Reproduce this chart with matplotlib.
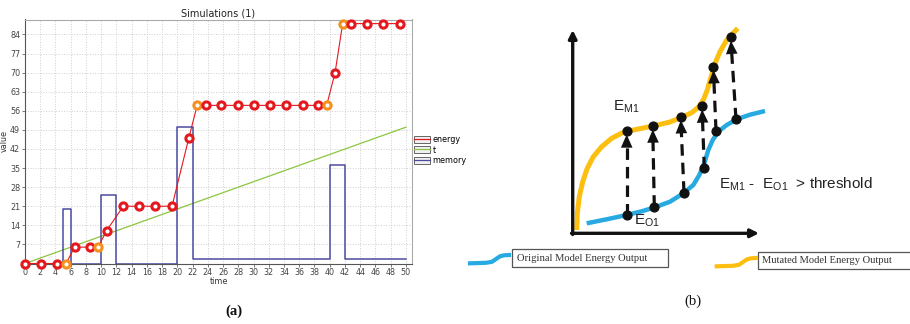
import numpy as np
import matplotlib
matplotlib.use("Agg")
import matplotlib.pyplot as plt
from matplotlib.patches import Patch, Rectangle
from matplotlib.lines import Line2D
from matplotlib.legend_handler import HandlerTuple

# ---- panel (a) data ----
energy_time = [0, 2.1, 4.25, 5.4, 6.5, 8.5, 9.6, 10.7, 12.9, 15.0, 17.1, 19.3,
               21.5, 22.6, 23.7, 25.7, 27.9, 30.0, 32.2, 34.3, 36.5, 38.5, 39.6,
               40.7, 41.7, 42.8, 44.9, 47.0, 49.2]
energy_val = [0, 0, 0, 0, 6, 6, 6, 12, 21, 21, 21, 21,
              46, 58, 58, 58, 58, 58, 58, 58, 58, 58, 58,
              70, 88, 88, 88, 88, 88]
energy_flag = [0, 0, 0, 1, 0, 0, 1, 0, 0, 0, 0, 0,
               0, 1, 0, 0, 0, 0, 0, 0, 0, 0, 1,
               0, 1, 0, 0, 0, 0]   # 1 = orange marker
t_time = [0, 50]
t_val = [0, 50]
mem_time = [0, 5, 6, 10, 12, 20, 22, 40, 42, 50]
mem_val = [0, 20, 0, 25, 0, 50, 1.5, 36, 1.5, 1.5]
xticks = list(range(0, 51, 2))
yticks = list(range(7, 85, 7))

# ---- panel (b) data (pixel coords of the sketch) ----
mut_x = [576.7, 577.3, 579.3, 582.7, 587.3, 593.3, 601.7, 611.7, 623.3, 636.7, 653.3,
         670, 681.7, 691.7, 698.3, 703.3, 707.3, 710.7, 715, 720, 726.7, 737.7]
mut_y = [230, 213.3, 196.7, 181.7, 168.3, 156.7, 146.7, 138.3, 132.3, 129.3, 126,
         122, 117.3, 112.7, 107.3, 100, 90, 78.3, 63.3, 51.7, 40, 28.3]
orig_x = [586.7, 606.7, 626.7, 641.7, 655, 670, 683.3, 693.3, 699.3, 704.3, 708.3,
          712.7, 718.3, 726.7, 736.7, 750, 765]
orig_y = [223.3, 219.3, 215, 211.3, 207.3, 201.7, 193.3, 185, 175, 163.3, 150,
          140, 131.7, 125, 119.3, 114.7, 111]
dot_mut_x = [626.7, 652.7, 680.7, 702, 713.3, 730.7]
dot_mut_y = [131, 126, 116.7, 106, 66.7, 37.3]
dot_orig_x = [626.7, 654.3, 684, 704.3, 716, 736]
dot_orig_y = [215, 206.7, 192.7, 168.3, 130.7, 119.3]

RED = "#e3191f"
ORANGE = "#f4901f"
GREEN = "#8cc63f"
BLUE = "#4a4aa2"
YEL = "#fcbf10"
CYAN = "#27a9e1"

W, H = 910, 324
fig = plt.figure(figsize=(W / 100, H / 100), dpi=100)

# overlay in pixel coords for panel (b) and captions
ov = fig.add_axes([0, 0, 1, 1])
ov.set_xlim(0, W)
ov.set_ylim(H, 0)
ov.axis("off")

ax = fig.add_axes([25 / W, 1 - 263.5 / H, (412 - 25) / W, (263.5 - 19.5) / H])
ax.set_xlim(0, 50.8)
ax.set_ylim(0, 89.5)
ax.set_xticks(xticks)
ax.set_yticks(yticks)
ax.tick_params(labelsize=5.8, length=2, width=0.5, pad=1.5, colors="#444444")
ax.grid(True, color="#cfcfcf", linestyle=":", linewidth=0.7)
ax.set_axisbelow(True)
for s in ["top", "right"]:
    ax.spines[s].set_color("#aaaaaa")
for s in ["left", "bottom"]:
    ax.spines[s].set_color("#555555")
for s in ax.spines.values():
    s.set_linewidth(0.8)

ax.plot(t_time, t_val, color=GREEN, lw=0.9, zorder=2)
ax.plot(mem_time, mem_val, color=BLUE, lw=1.1, drawstyle="steps-post", zorder=2)
ax.plot(energy_time, energy_val, color=RED, lw=0.8, zorder=3)
cols = [ORANGE if f else RED for f in energy_flag]
for x, y, c in zip(energy_time, energy_val, cols):
    ax.plot(x, y, "o", ms=5.2, mew=2.2, mec=c, mfc="white", zorder=4, clip_on=False)

ax.set_title("Simulations (1)", fontsize=7, pad=2, color="#222222")
ax.set_xlabel("time", fontsize=5.8, labelpad=0, color="#333333")
ax.set_ylabel("value", fontsize=5.8, labelpad=1, color="#333333")

handles = []
for c in [RED, GREEN, BLUE]:
    handles.append((Patch(facecolor="#f0f0f0", edgecolor="#666666", lw=0.7),
                    Line2D([], [], color=c, lw=0.9)))
fig.legend(handles, ["energy", "t", "memory"], handler_map={tuple: HandlerTuple(ndivide=1)},
           loc="upper left", bbox_to_anchor=(414 / W, 1 - 135 / H), frameon=False,
           fontsize=5.8, handlelength=2.0, handleheight=1.0, labelspacing=0.2,
           borderpad=0, handletextpad=0.3, borderaxespad=0)

# ---- panel (b) sketch ----
ov.plot(mut_x, mut_y, color=YEL, lw=3.6, solid_capstyle="butt", solid_joinstyle="round")
ov.plot(orig_x, orig_y, color=CYAN, lw=3.2, solid_capstyle="butt", solid_joinstyle="round")

# axes arrows
ov.annotate("", xy=(572.7, 30), xytext=(572.7, 234.5),
            arrowprops=dict(arrowstyle="-|>", lw=2.4, color="#111111", mutation_scale=12,
                            shrinkA=0, shrinkB=0))
ov.annotate("", xy=(759, 233.3), xytext=(571.5, 233.3),
            arrowprops=dict(arrowstyle="-|>", lw=2.4, color="#111111", mutation_scale=12,
                            shrinkA=0, shrinkB=0))

for x0, y0, x1, y1 in zip(dot_orig_x, dot_orig_y, dot_mut_x, dot_mut_y):
    # dashed shaft, solid head just under the upper dot
    d = y0 - y1
    tip = 3.5
    base = 13.0
    xt, yt = x1 + (x0 - x1) * tip / d, y1 + tip
    xb, yb = x1 + (x0 - x1) * base / d, y1 + base
    ov.plot([x0, xb], [y0, yb], color="#111111", lw=2.3, dashes=(3.6, 2.2))
    ov.annotate("", xy=(xt, yt), xytext=(xb, yb),
                arrowprops=dict(arrowstyle="-|>,head_length=0.5,head_width=0.22", lw=0,
                                color="#111111", mutation_scale=19, shrinkA=0, shrinkB=0))
ov.scatter(dot_mut_x + dot_orig_x, dot_mut_y + dot_orig_y, s=40, color="#111111", zorder=5)

plt.rcParams["mathtext.fontset"] = "custom"
plt.rcParams["mathtext.rm"] = "Liberation Sans"
sf = dict(family="Liberation Sans", color="#222222")
ov.text(613, 107, r"$\mathrm{E}_{\mathrm{M1}}$", fontsize=11, va="center", ha="left", **sf)
ov.text(634, 221, r"$\mathrm{E}_{\mathrm{O1}}$", fontsize=11, va="center", ha="left", **sf)
ov.text(719, 184, r"$\mathrm{E}_{\mathrm{M1}}$ -  $\mathrm{E}_{\mathrm{O1}}$  > threshold",
        fontsize=11, va="center", ha="left", **sf)

# legend of the sketch
ov.plot([470, 486, 492, 496, 500, 504, 509], [263.3, 262.8, 261.8, 259, 256.3, 255.3, 255],
        color=CYAN, lw=3.0, solid_joinstyle="round")
ov.plot([716.7, 733, 739, 743, 747, 751, 756], [266.3, 265.8, 264.8, 262, 259.3, 258.3, 258],
        color=YEL, lw=3.0, solid_joinstyle="round")
ov.add_patch(Rectangle((512.3, 249.3), 156, 18, fill=False, ec="#555555", lw=0.9))
ov.add_patch(Rectangle((757.7, 251.7), 160, 17.6, fill=False, ec="#555555", lw=0.9))
tf = dict(family="Liberation Serif", fontsize=7.6, color="#333333", va="center")
ov.text(517, 258.3, "Original Model Energy Output", **tf)
ov.text(762, 260.5, "Mutated Model Energy Output", **tf)

cap = dict(family="Liberation Serif", fontsize=10.5, ha="center", va="center", color="#111111")
ov.text(234, 311, "(a)", fontweight="bold", **cap)
ov.text(693, 301, "(b)", **cap)

fig.savefig("out.png", dpi=100)
